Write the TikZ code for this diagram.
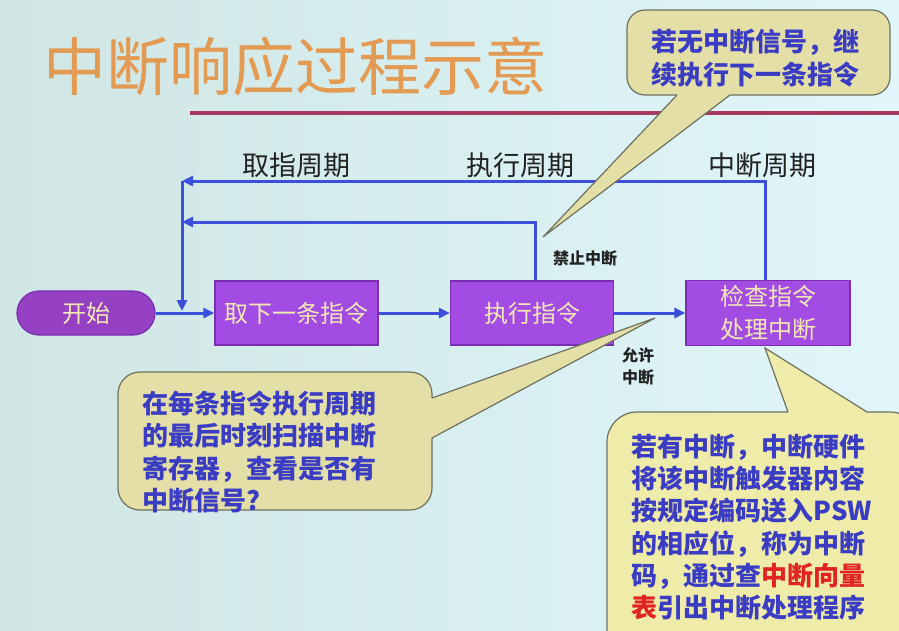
\documentclass[tikz,border=0pt]{standalone}
\usepackage{fontspec}
\setmainfont{Noto Sans CJK SC}
\usepackage{xcolor}
\usetikzlibrary{arrows.meta}
\definecolor{bgL}{HTML}{CFE6E4}
\definecolor{bgR}{HTML}{E0F6FA}
\definecolor{flowblue}{HTML}{3C4FDC}
\definecolor{boxfill}{HTML}{A24CE4}
\definecolor{boxedge}{HTML}{7A2EB0}
\definecolor{startfill}{HTML}{9640C4}
\definecolor{boxtext}{HTML}{F2E8B4}
\definecolor{callfillA}{HTML}{E4DFA6}
\definecolor{callfillB}{HTML}{EFEBA8}
\definecolor{calledge}{HTML}{6E7060}
\definecolor{calltext}{HTML}{3A3CC4}
\definecolor{hotred}{HTML}{E02424}
\definecolor{titlefill}{HTML}{E39A52}
\definecolor{rulered}{HTML}{A8385E}
\definecolor{lbl}{HTML}{222222}
\begin{document}
\begin{tikzpicture}[x=1pt,y=-1pt,
  flow/.style={draw=flowblue, line width=3pt, -{Triangle[length=11pt,width=10pt]}},
  procbox/.style={draw=boxedge, line width=1.2pt, fill=boxfill, text=boxtext,
    font=\fontsize{24}{33}\selectfont, minimum width=163pt, minimum height=64pt,
    inner sep=0pt, align=center},
  startbox/.style={procbox, fill=startfill, rounded corners=22pt,
    minimum width=138pt, minimum height=44pt},
  cyclabel/.style={text=lbl, font=\fontsize{27}{30}\selectfont, inner sep=0pt},
  smalllabel/.style={text=lbl, font=\bfseries\fontsize{16}{22}\selectfont, align=center, inner sep=0pt},
  calledgeline/.style={draw=calledge, line width=1.2pt},
  calltxt/.style={text=calltext, font=\bfseries\fontsize{26}{32.3}\selectfont, align=left, inner sep=0pt}
]
\clip (0,0) rectangle (899,630);
\shade[left color=bgL, right color=bgR] (0,0) rectangle (899,630);

% title and rule
\node[inner sep=0pt, text=titlefill, font=\fontsize{63}{64}\selectfont] (title) at (295,66) {中断响应过程示意};
\draw[rulered, line width=4pt] (190,113) -- (899,113);

% cycle labels
\node[cyclabel] (lblF) at (296,165) {取指周期};
\node[cyclabel] (lblE) at (520,165) {执行周期};
\node[cyclabel] (lblI) at (762,165) {中断周期};

% process row
\node[startbox] (start) at (86,313) {开始};
\node[procbox] (fetch) at (296.5,313) {取下一条指令};
\node[procbox] (exec) at (532,313) {执行指令};
\node[procbox, minimum width=164pt, minimum height=65pt] (check) at (768,313) {检查指令\\处理中断};

\coordinate (loopA) at (182,181);
\coordinate (loopB) at (182,222);
\coordinate (loopJoin) at (182,311);

\draw[flow] (start) -- (fetch);
\draw[flow] (fetch) -- (exec);
\draw[flow] (exec) -- (check);
\draw[flow] ([xshift=-3pt]check.north) |- (loopA);
\draw[flow] ([xshift=3pt]exec.north) |- (loopB);
\draw[flow] (loopA) -- (loopJoin);

\node[smalllabel] (lblNo) at (585,258) {禁止中断};
\node[smalllabel] (lblYes) at (638,366) {允许\\中断};

% top callout
\draw[calledgeline, fill=callfillA, rounded corners=18pt] (627,10) rectangle (890,95);
\fill[callfillA] (677,91) -- (677,95) -- (543,237) -- (730,95) -- (730,91) -- cycle;
\draw[calledgeline, line join=miter] (677,95) -- (543,237) -- (730,95);
\node[calltxt, align=center] (noteTop) at (755,58) {若无中断信号，继\\续执行下一条指令};

% left callout
\draw[calledgeline, fill=callfillA, rounded corners=22pt] (118,372) rectangle (432,510);
\fill[callfillA] (428,398) -- (432,398) -- (655,318) -- (432,438) -- (428,438) -- cycle;
\draw[calledgeline, line join=miter] (432,398) -- (655,318) -- (432,438);
\node[calltxt] (noteLeft) at (259,452) {在每条指令执行周期\\的最后时刻扫描中断\\寄存器，查看是否有\\中断信号?};

% right callout
\draw[calledgeline, fill=callfillB, rounded corners=30pt] (607,412) rectangle (920,660);
\fill[callfillB] (788,416) -- (788,412) -- (765,348) -- (867,412) -- (867,416) -- cycle;
\draw[calledgeline, line join=miter] (788,412) -- (765,348) -- (867,412);
\node[calltxt] (noteRight) at (752,527) {若有中断，中断硬件\\将该中断触发器内容\\按规定编码送入PSW\\的相应位，称为中断\\码，通过查\textcolor{hotred}{中断向量}\\\textcolor{hotred}{表}引出中断处理程序};
\end{tikzpicture}
\end{document}
